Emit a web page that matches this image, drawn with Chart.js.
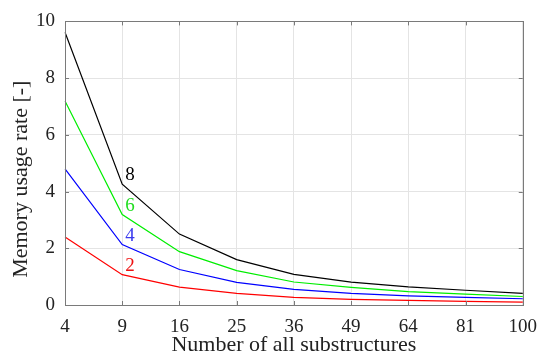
<!DOCTYPE html>
<html>
<head>
<meta charset="utf-8">
<script src="https://cdn.jsdelivr.net/npm/chart.js@4/dist/chart.umd.min.js"></script>
<style>
html,body{margin:0;padding:0;background:#fff;}
#wrap{width:548px;height:358px;}
</style>
</head>
<body>
<div id="wrap"><canvas id="c" width="548" height="358"></canvas></div>
<script>
const categories = ['4','9','16','25','36','49','64','81','100'];
const series8 = [9.62, 4.26, 2.50, 1.60, 1.08, 0.81, 0.64, 0.52, 0.41];
const series6 = [7.19, 3.19, 1.88, 1.21, 0.81, 0.62, 0.47, 0.38, 0.30];
const series4 = [4.80, 2.13, 1.25, 0.80, 0.55, 0.41, 0.32, 0.27, 0.22];
const series2 = [2.40, 1.07, 0.63, 0.41, 0.27, 0.20, 0.16, 0.13, 0.10];
const seriesNames = ['8','6','4','2'];
const seriesColors = ['#000000','#00ee00','#0000ff','#ff0000'];
const labelColors = ['#000000','#22dd22','#3a3aee','#ee1111'];
const yTicks = [0,2,4,6,8,10];
const yTitle = 'Memory usage rate [-]';
const xTitle = 'Number of all substructures';

const font = "'Liberation Serif', 'Times New Roman', serif";
Chart.defaults.font.family = font;
const allSeries = [series8, series6, series4, series2];

const boxPlugin = {
  id:'box',
  afterDraw(chart){
    const {ctx, chartArea:a, scales} = chart;
    ctx.save();
    ctx.strokeStyle = '#7a7a7a';
    ctx.lineWidth = 1;
    ctx.strokeRect(Math.round(a.left)+0.5, Math.round(a.top)+0.5, Math.round(a.right-a.left), Math.round(a.bottom-a.top));
    const tl = 4;
    ctx.beginPath();
    scales.x.ticks.forEach((t,i)=>{
      const x = Math.round(scales.x.getPixelForTick(i))+0.5;
      ctx.moveTo(x, a.bottom); ctx.lineTo(x, a.bottom-tl);
      ctx.moveTo(x, a.top); ctx.lineTo(x, a.top+tl);
    });
    scales.y.ticks.forEach((t)=>{
      const y = Math.round(scales.y.getPixelForValue(t.value))+0.5;
      ctx.moveTo(a.left, y); ctx.lineTo(a.left+tl, y);
      ctx.moveTo(a.right, y); ctx.lineTo(a.right-tl, y);
    });
    ctx.stroke();
    // inline series labels at second category
    ctx.font = '19px ' + font;
    ctx.textAlign = 'left';
    ctx.textBaseline = 'middle';
    const xi = 1;
    const px = scales.x.getPixelForValue(xi) + 3;
    allSeries.forEach((s, k)=>{
      const py = scales.y.getPixelForValue(s[xi]) - 9;
      ctx.fillStyle = labelColors[k];
      ctx.fillText(seriesNames[k], px, py);
    });
    // y-axis title (positioned as in reference, slightly below axis centre)
    ctx.save();
    ctx.translate(21, (a.top + a.bottom)/2 + 16);
    ctx.rotate(-Math.PI/2);
    ctx.font = '22px ' + font;
    ctx.fillStyle = '#222';
    ctx.textAlign = 'center';
    ctx.textBaseline = 'middle';
    ctx.fillText(yTitle, 0, 0);
    ctx.restore();
    ctx.restore();
  }
};

new Chart(document.getElementById('c'), {
  type:'line',
  data:{
    labels: categories,
    datasets: allSeries.map((s,k)=>({
      label: seriesNames[k],
      data: s,
      borderColor: seriesColors[k],
      backgroundColor: seriesColors[k],
      borderWidth: 1.2,
      pointRadius: 0,
      tension: 0,
      fill: false
    }))
  },
  options:{
    responsive:false,
    animation:false,
    devicePixelRatio:1,
    layout:{padding:{top:18,right:22,left:0,bottom:0}},
    plugins:{legend:{display:false}, tooltip:{enabled:false}},
    scales:{
      x:{
        type:'category',
        offset:false,
        grid:{color:'#e4e4e4', lineWidth:1, drawTicks:false},
        border:{display:false},
        ticks:{color:'#222', font:{family:font, size:19}, padding:11, maxRotation:0, autoSkip:false},
        title:{display:true, text:xTitle, color:'#222', font:{family:font, size:22}, padding:{top:-6,bottom:0}},
        afterFit(s){ s.height = 53; }
      },
      y:{
        min:0, max:10,
        afterBuildTicks(s){ s.ticks = yTicks.map(v=>({value:v})); },
        grid:{color:'#e4e4e4', lineWidth:1, drawTicks:false},
        border:{display:false},
        ticks:{color:'#222', font:{family:font, size:19}, padding:10},
        title:{display:false},
        afterFit(s){ s.width = 65; }
      }
    }
  },
  plugins:[boxPlugin]
});
</script>
</body>
</html>
